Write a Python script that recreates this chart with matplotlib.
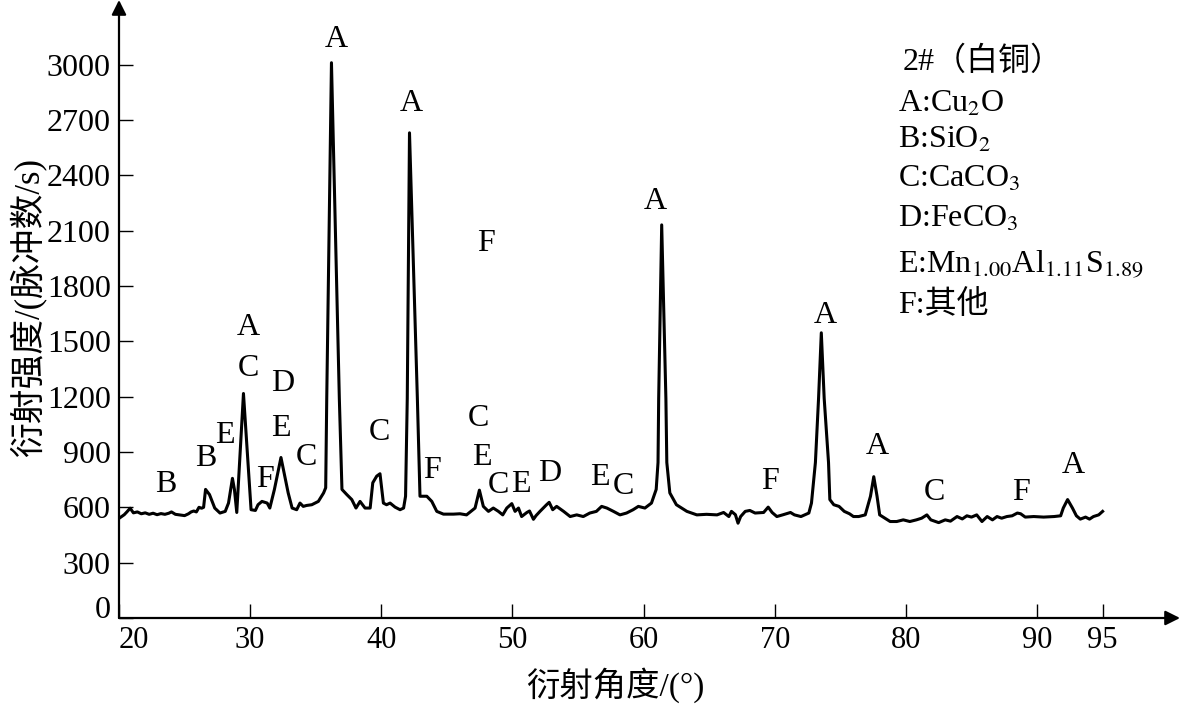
import matplotlib.pyplot as plt

plt.rcParams["font.family"] = ["Liberation Serif", "Noto Sans CJK SC"]
plt.rcParams["mathtext.fontset"] = "stix"

# XRD trace: 2theta (deg) and counts per second
two_theta = [
    20.0, 20.4, 20.6, 20.85, 21.1, 21.4, 21.7, 22.0, 22.3, 22.6, 22.9, 23.2,
    23.5, 23.8, 24.0, 24.3, 24.7, 25.0, 25.3, 25.5, 25.7, 25.9, 26.1, 26.3,
    26.45, 26.6, 26.9, 27.3, 27.7, 28.1, 28.35, 28.65, 28.8, 28.98, 29.49,
    30.07, 30.4, 30.6, 30.9, 31.3, 31.5, 31.85, 32.35, 32.9, 33.2, 33.55,
    33.8, 34.05, 34.3, 34.7, 35.2, 35.6, 35.76, 35.84, 36.2, 36.8, 37.0,
    37.37, 37.75, 38.07, 38.38, 38.76, 39.15, 39.35, 39.65, 39.9, 40.16,
    40.4, 40.67, 41.05, 41.43, 41.7, 41.85, 41.98, 42.15, 42.75, 42.95,
    43.47, 43.85, 44.23, 44.74, 45.5, 46.0, 46.5, 47.15, 47.48, 47.78,
    48.17, 48.54, 48.93, 49.26, 49.57, 49.95, 50.2, 50.46, 50.7, 51.1,
    51.3, 51.6, 51.8, 52.1, 52.6, 52.8, 53.07, 53.37, 53.9, 54.4, 54.9,
    55.4, 55.9, 56.4, 56.8, 57.2, 57.7, 58.2, 58.7, 59.2, 59.6, 60.1, 60.6,
    60.96, 61.1, 61.15, 61.38, 61.7, 61.77, 62.0, 62.5, 63.3, 64.06, 64.8,
    65.6, 66.1, 66.5, 66.7, 67.0, 67.2, 67.4, 67.75, 68.1, 68.5, 69.15,
    69.5, 69.8, 70.16, 70.6, 71.2, 71.5, 72.0, 72.6, 72.8, 73.1, 73.34,
    73.55, 73.77, 74.1, 74.2, 74.5, 74.9, 75.3, 75.7, 76.0, 76.4, 76.9,
    77.3, 77.55, 77.8, 78.0, 78.4, 78.8, 79.3, 79.8, 80.3, 80.8, 81.2,
    81.6, 81.9, 82.5, 83.0, 83.4, 83.9, 84.3, 84.65, 85.0, 85.4, 85.8,
    86.2, 86.6, 86.95, 87.3, 87.7, 88.1, 88.5, 88.75, 89.1, 89.75, 90.5,
    91.3, 91.8, 92.0, 92.33, 92.7, 93.0, 93.3, 93.7, 94.0, 94.3, 94.7, 95.0,
]
intensity = [
    540, 560, 575, 595, 570, 575, 565, 570, 562, 568, 560, 566,
    562, 568, 575, 562, 558, 555, 565, 575, 580, 575, 600, 595,
    600, 697, 669, 596, 569, 578, 623, 757, 697, 572, 1217,
    587, 583, 614, 632, 623, 596, 697, 870, 678, 596, 587,
    623, 605, 610, 614, 632, 678, 706, 1190, 3010, 1190, 697,
    669, 642, 596, 632, 596, 596, 733, 769, 782, 623,
    614, 623, 601, 587, 596, 660, 1190, 2630, 1190, 660,
    660, 632, 578, 563, 563, 565, 559, 596, 693, 605,
    578, 596, 578, 559, 596, 620, 578, 596, 550, 572,
    580, 535, 555, 578, 614, 627, 587, 605, 578, 550, 559,
    550, 569, 578, 605, 596, 578, 559, 569, 587, 605, 596, 623,
    697, 843, 1190, 2131, 1190, 843, 678, 614, 578, 559, 562,
    559, 572, 550, 578, 560, 514, 550, 578, 583, 569, 572,
    601, 572, 550, 559, 572, 559, 550, 569, 623, 843, 1190,
    1546, 1190, 843, 642, 614, 605, 578, 565, 550, 550, 559,
    660, 766, 660, 559, 541, 523, 523, 532, 523, 532, 541,
    559, 532, 517, 532, 525, 550, 537, 554, 547, 559, 523,
    550, 532, 550, 541, 550, 554, 569, 565, 547, 550, 547,
    550, 554, 596, 642, 596, 554, 536, 547, 536, 550, 559, 578,
]

# phase labels over the peaks: (text, 2theta, intensity)
peak_labels = [
    ("B", 23.6, 724), ("B", 26.6, 866), ("E", 28.1, 987),
    ("A", 29.84, 1574), ("C", 29.84, 1355), ("F", 31.1, 751),
    ("D", 32.5, 1272), ("E", 32.36, 1025), ("C", 34.3, 872),
    ("A", 36.55, 3137), ("C", 39.83, 1004), ("A", 42.27, 2791),
    ("F", 43.9, 800), ("C", 47.4, 1080), ("E", 47.7, 872),
    ("F", 48.0, 2029), ("C", 48.9, 718), ("E", 50.66, 724),
    ("D", 52.8, 784), ("E", 56.7, 762), ("C", 58.45, 713),
    ("A", 60.9, 2259), ("F", 69.66, 740), ("A", 73.85, 1640),
    ("A", 77.8, 932), ("C", 82.2, 680), ("F", 88.8, 680),
    ("A", 92.77, 828),
]

legend_lines = [
    "2#（白铜）",
    "A:Cu$_2$O",
    "B:SiO$_2$",
    "C:CaCO$_3$",
    "D:FeCO$_3$",
    "E:Mn$_{1.00}$Al$_{1.11}$S$_{1.89}$",
    "F:其他",
]
legend_base_px = [70, 112, 148, 187, 227, 273, 313]

x_ticks = [20, 30, 40, 50, 60, 70, 80, 90, 95]
y_ticks = list(range(0, 3001, 300))

W, H = 1186, 706
fig = plt.figure(figsize=(W / 100, H / 100), dpi=100)
ax = fig.add_axes([119 / W, (H - 618) / H, (1180 - 119) / W, 618 / H])

ax.plot(two_theta, intensity, color="black", lw=2.2)

for txt, x, y in peak_labels:
    ax.text(x, y, txt, ha="center", va="center", fontsize=23)

ax.set_xlim(20, 100.9)
ax.set_ylim(0, 3350)
ax.set_xticks(x_ticks)
ax.set_yticks(y_ticks)
ax.tick_params(axis="both", direction="in", length=10, width=1.0, pad=6)
ax.tick_params(axis="y", labelsize=23)
ax.tick_params(axis="x", labelsize=22)
ax.get_yticklabels()[0].set_va("baseline")
ax.get_xticklabels()[0].set_ha("left")

for s in ax.spines.values():
    s.set_visible(False)
arrow = dict(arrowstyle="-|>", lw=1.6, color="black", mutation_scale=22,
             shrinkA=0, shrinkB=0)
ax.annotate("", xy=(1, 0), xytext=(0, 0), xycoords="axes fraction",
            textcoords="axes fraction", arrowprops=arrow, annotation_clip=False)
ax.annotate("", xy=(0, 1), xytext=(0, 0), xycoords="axes fraction",
            textcoords="axes fraction", arrowprops=arrow, annotation_clip=False)

for i, line in enumerate(legend_lines):
    x0 = 903 if i == 0 else 898
    fig.text(x0 / W, 1 - legend_base_px[i] / H, line, fontsize=23,
             ha="left", va="baseline")

fig.text(28 / W, 1 - 307 / H, "衍射强度/(脉冲数/s)", rotation=90,
         ha="center", va="center", fontsize=25)
fig.text(615 / W, 1 - 685 / H, "衍射角度/(°)", ha="center", va="center",
         fontsize=24)

fig.savefig("out.png", dpi=100)
